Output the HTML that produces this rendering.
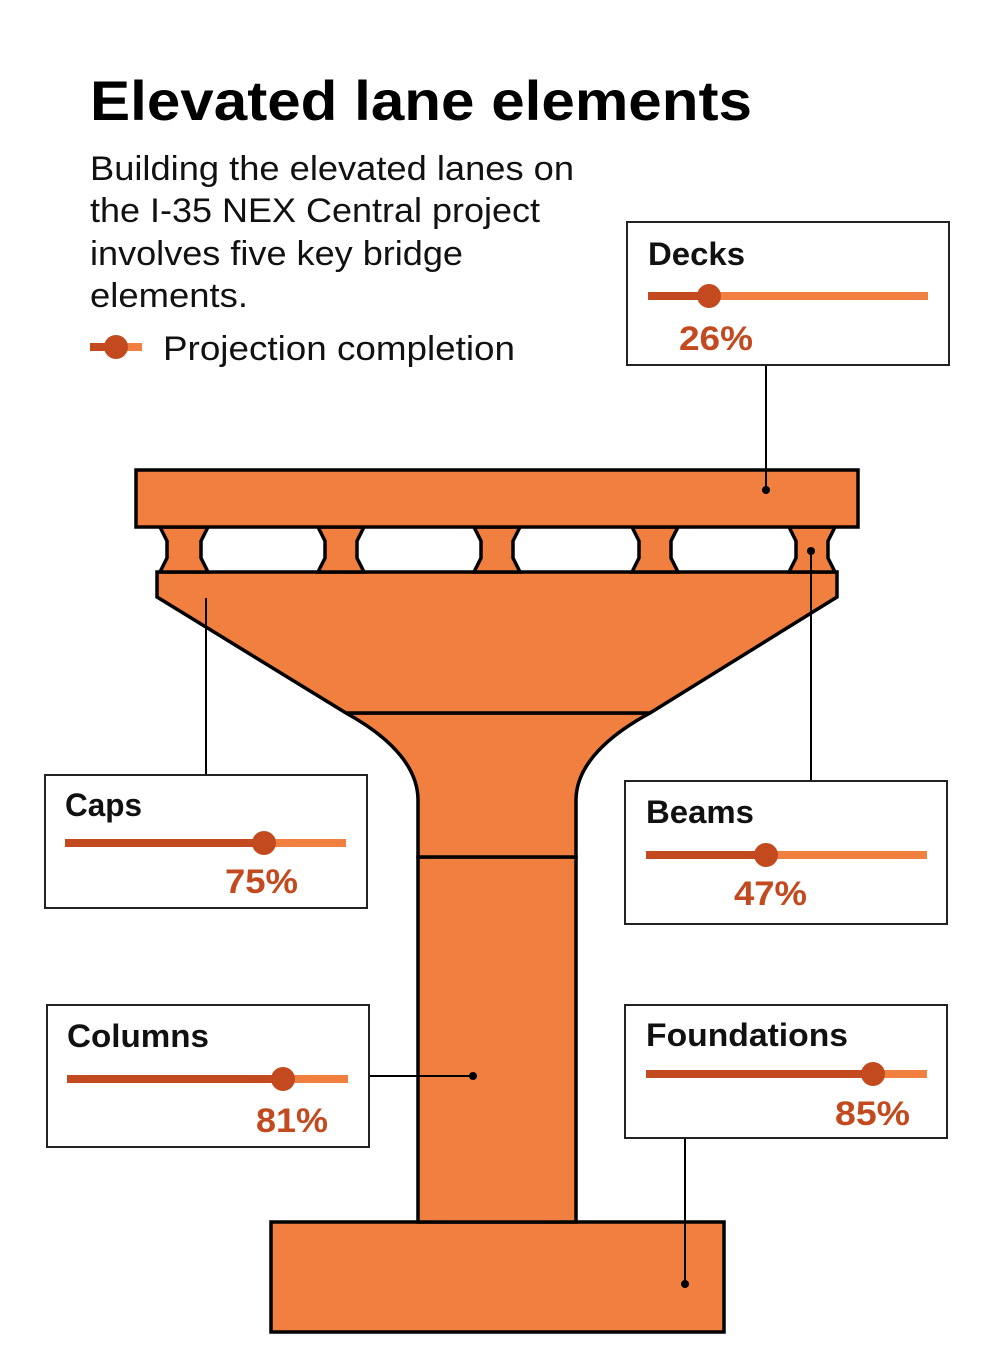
<!DOCTYPE html>
<html><head><meta charset="utf-8"><style>
html,body{margin:0;padding:0;background:#fff;}
svg{display:block;font-family:"Liberation Sans",sans-serif;}
.t{font-weight:bold;font-size:32px;fill:#111;}
.p{font-weight:bold;font-size:34px;fill:#c24a1e;}
.s{font-size:34px;fill:#111;}
</style></head><body>
<svg width="1000" height="1371" viewBox="0 0 1000 1371" xmlns="http://www.w3.org/2000/svg">
<text x="90" y="120" font-size="56" font-weight="bold" fill="#000" textLength="662" lengthAdjust="spacingAndGlyphs">Elevated lane elements</text>
<text class="s" x="90" y="180" textLength="484" lengthAdjust="spacingAndGlyphs">Building the elevated lanes on</text>
<text class="s" x="90" y="222" textLength="450" lengthAdjust="spacingAndGlyphs">the I-35 NEX Central project</text>
<text class="s" x="90" y="265" textLength="373" lengthAdjust="spacingAndGlyphs">involves five key bridge</text>
<text class="s" x="90" y="307" textLength="158" lengthAdjust="spacingAndGlyphs">elements.</text>
<line x1="90" y1="347" x2="116" y2="347" stroke="#c24a1e" stroke-width="8"/>
<line x1="116" y1="347" x2="142" y2="347" stroke="#f07f40" stroke-width="8"/>
<circle cx="116" cy="347" r="12" fill="#c24a1e"/>
<text class="s" x="163" y="360" textLength="352" lengthAdjust="spacingAndGlyphs">Projection completion</text>

<g fill="#f07f40" stroke="#000" stroke-width="3.5" stroke-linejoin="miter">
<rect x="271" y="1222" width="453" height="110"/>
<rect x="418" y="857" width="158" height="365"/>
<path d="M346,713 L650,713 C600,740 576,770 576,800 L576,857 L418,857 L418,800 C418,770 395,740 346,713 Z"/>
<polygon points="157,572 837,572 837,597 650,713 346,713 157,597"/>
<polygon points="160,527 208,527 201,541 201,558 208,572 160,572 167,558 167,541"/>
<polygon points="318,527 364,527 357,541 357,558 364,572 318,572 325,558 325,541"/>
<polygon points="474,527 520,527 513,541 513,558 520,572 474,572 481,558 481,541"/>
<polygon points="632,527 678,527 671,541 671,558 678,572 632,572 639,558 639,541"/>
<polygon points="789,527 835,527 828,541 828,558 835,572 789,572 796,558 796,541"/>
<rect x="136" y="470" width="722" height="57"/>
</g>

<g stroke="#000" stroke-width="2" fill="none">
<line x1="766" y1="365" x2="766" y2="490"/>
<line x1="206" y1="598" x2="206" y2="775"/>
<line x1="811" y1="551" x2="811" y2="781"/>
<line x1="369" y1="1076" x2="473" y2="1076"/>
<line x1="685" y1="1138" x2="685" y2="1284"/>
</g>
<g fill="#000">
<circle cx="766" cy="490" r="4"/><circle cx="811" cy="551" r="4"/>
<circle cx="473" cy="1076" r="4"/><circle cx="685" cy="1284" r="4"/>
</g>

<g fill="#fff" stroke="#222" stroke-width="2">
<rect x="627" y="222" width="322" height="143"/>
<rect x="45" y="775" width="322" height="133"/>
<rect x="625" y="781" width="322" height="143"/>
<rect x="47" y="1005" width="322" height="142"/>
<rect x="625" y="1005" width="322" height="133"/>
</g>

<text class="t" x="648" y="265" textLength="97" lengthAdjust="spacingAndGlyphs">Decks</text>
<line x1="709" y1="296" x2="928" y2="296" stroke="#f07f40" stroke-width="8"/>
<line x1="648" y1="296" x2="709" y2="296" stroke="#c24a1e" stroke-width="8"/>
<circle cx="709" cy="296" r="12" fill="#c24a1e"/>
<text class="p" x="679" y="350" textLength="74" lengthAdjust="spacingAndGlyphs">26%</text>

<text class="t" x="65" y="816" textLength="77" lengthAdjust="spacingAndGlyphs">Caps</text>
<line x1="264" y1="843" x2="346" y2="843" stroke="#f07f40" stroke-width="8"/>
<line x1="65" y1="843" x2="264" y2="843" stroke="#c24a1e" stroke-width="8"/>
<circle cx="264" cy="843" r="12" fill="#c24a1e"/>
<text class="p" x="225" y="893" textLength="73" lengthAdjust="spacingAndGlyphs">75%</text>

<text class="t" x="646" y="823" textLength="108" lengthAdjust="spacingAndGlyphs">Beams</text>
<line x1="766" y1="855" x2="927" y2="855" stroke="#f07f40" stroke-width="8"/>
<line x1="646" y1="855" x2="766" y2="855" stroke="#c24a1e" stroke-width="8"/>
<circle cx="766" cy="855" r="12" fill="#c24a1e"/>
<text class="p" x="734" y="905" textLength="73" lengthAdjust="spacingAndGlyphs">47%</text>

<text class="t" x="67" y="1047" textLength="142" lengthAdjust="spacingAndGlyphs">Columns</text>
<line x1="283" y1="1079" x2="348" y2="1079" stroke="#f07f40" stroke-width="8"/>
<line x1="67" y1="1079" x2="283" y2="1079" stroke="#c24a1e" stroke-width="8"/>
<circle cx="283" cy="1079" r="12" fill="#c24a1e"/>
<text class="p" x="256" y="1132" textLength="72" lengthAdjust="spacingAndGlyphs">81%</text>

<text class="t" x="646" y="1046" textLength="202" lengthAdjust="spacingAndGlyphs">Foundations</text>
<line x1="873" y1="1074" x2="927" y2="1074" stroke="#f07f40" stroke-width="8"/>
<line x1="646" y1="1074" x2="873" y2="1074" stroke="#c24a1e" stroke-width="8"/>
<circle cx="873" cy="1074" r="12" fill="#c24a1e"/>
<text class="p" x="835" y="1125" textLength="75" lengthAdjust="spacingAndGlyphs">85%</text>
</svg>
</body></html>
